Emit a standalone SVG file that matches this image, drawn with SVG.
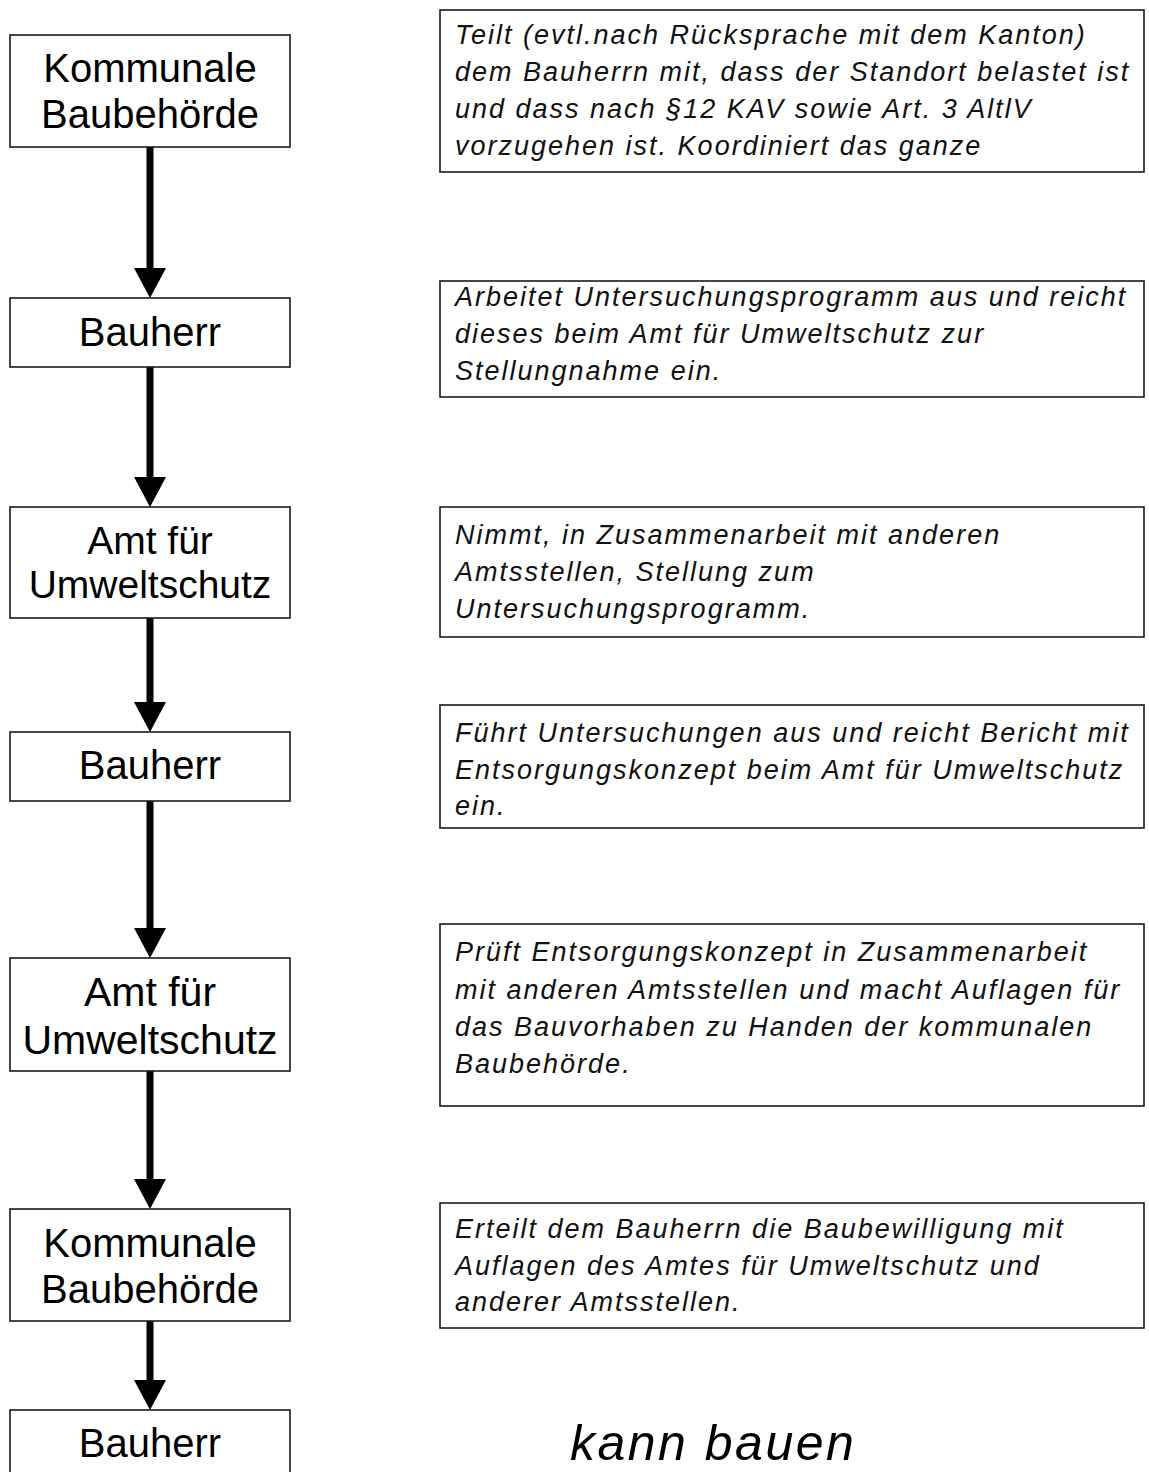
<svg xmlns="http://www.w3.org/2000/svg" width="1149" height="1472" viewBox="0 0 1149 1472">
<style>
.box{fill:#fff;stroke:#1a1a1a;stroke-width:1.6}
.nt{font-family:"Liberation Sans",Arial,sans-serif;font-size:40px;fill:#000;text-anchor:middle}
.dt{font-family:"Liberation Sans",Arial,sans-serif;font-size:27px;font-style:italic;fill:#111;letter-spacing:2px}
.big{font-family:"Liberation Sans",Arial,sans-serif;font-size:50px;font-style:italic;fill:#000;letter-spacing:2.5px}
.arr{stroke:#000;stroke-width:7;fill:none}
</style>
<defs>
<marker id="ah" markerUnits="userSpaceOnUse" markerWidth="32" markerHeight="32" viewBox="0 0 30 32" refX="1" refY="16" orient="auto">
<path d="M0,0 L30,16 L0,32 Z" fill="#000"/>
</marker>
</defs>
<rect width="1149" height="1472" fill="#fff"/>
<g id="connectors">
<line class="arr" x1="150" y1="147" x2="150" y2="269" marker-end="url(#ah)"/>
<line class="arr" x1="150" y1="367" x2="150" y2="478" marker-end="url(#ah)"/>
<line class="arr" x1="150" y1="618" x2="150" y2="703" marker-end="url(#ah)"/>
<line class="arr" x1="150" y1="801" x2="150" y2="929" marker-end="url(#ah)"/>
<line class="arr" x1="150" y1="1071" x2="150" y2="1180" marker-end="url(#ah)"/>
<line class="arr" x1="150" y1="1321" x2="150" y2="1381" marker-end="url(#ah)"/>
</g>
<g id="n1"><rect class="box" x="10" y="35" width="280" height="112"/><text class="nt" x="150" y="82">Kommunale</text><text class="nt" x="150" y="128">Baubehörde</text></g>
<g id="n2"><rect class="box" x="10" y="298" width="280" height="69"/><text class="nt" x="150" y="346">Bauherr</text></g>
<g id="n3"><rect class="box" x="10" y="507" width="280" height="111"/><text class="nt" x="150" y="554" style="font-size:39px">Amt für</text><text class="nt" x="150" y="598" style="font-size:39px">Umweltschutz</text></g>
<g id="n4"><rect class="box" x="10" y="732" width="280" height="69"/><text class="nt" x="150" y="779">Bauherr</text></g>
<g id="n5"><rect class="box" x="10" y="958" width="280" height="113"/><text class="nt" x="150" y="1006" style="font-size:41px">Amt für</text><text class="nt" x="150" y="1054" style="font-size:41px">Umweltschutz</text></g>
<g id="n6"><rect class="box" x="10" y="1209" width="280" height="112"/><text class="nt" x="150" y="1257">Kommunale</text><text class="nt" x="150" y="1303">Baubehörde</text></g>
<g id="n7"><rect class="box" x="10" y="1410" width="280" height="80"/><text class="nt" x="150" y="1457">Bauherr</text></g>
<g id="d1"><rect class="box" x="440" y="10" width="704" height="162"/>
<text class="dt" x="455" y="44">Teilt (evtl.nach Rücksprache mit dem Kanton)</text>
<text class="dt" x="455" y="81">dem Bauherrn mit, dass der Standort belastet ist</text>
<text class="dt" x="455" y="118">und dass nach §12 KAV sowie Art. 3 AltlV</text>
<text class="dt" x="455" y="155">vorzugehen ist. Koordiniert das ganze</text></g>
<g id="d2"><rect class="box" x="440" y="281" width="704" height="116"/>
<text class="dt" x="455" y="306">Arbeitet Untersuchungsprogramm aus und reicht</text>
<text class="dt" x="455" y="343">dieses beim Amt für Umweltschutz zur</text>
<text class="dt" x="455" y="380">Stellungnahme ein.</text></g>
<g id="d3"><rect class="box" x="440" y="507" width="704" height="130"/>
<text class="dt" x="455" y="544">Nimmt, in Zusammenarbeit mit anderen</text>
<text class="dt" x="455" y="581">Amtsstellen, Stellung zum</text>
<text class="dt" x="455" y="618">Untersuchungsprogramm.</text></g>
<g id="d4"><rect class="box" x="440" y="705" width="704" height="123"/>
<text class="dt" x="455" y="742">Führt Untersuchungen aus und reicht Bericht mit</text>
<text class="dt" x="455" y="779">Entsorgungskonzept beim Amt für Umweltschutz</text>
<text class="dt" x="455" y="815">ein.</text></g>
<g id="d5"><rect class="box" x="440" y="924" width="704" height="182"/>
<text class="dt" x="455" y="961">Prüft Entsorgungskonzept in Zusammenarbeit</text>
<text class="dt" x="455" y="999">mit anderen Amtsstellen und macht Auflagen für</text>
<text class="dt" x="455" y="1036">das Bauvorhaben zu Handen der kommunalen</text>
<text class="dt" x="455" y="1073">Baubehörde.</text></g>
<g id="d6"><rect class="box" x="440" y="1203" width="704" height="125"/>
<text class="dt" x="455" y="1238">Erteilt dem Bauherrn die Baubewilligung mit</text>
<text class="dt" x="455" y="1275">Auflagen des Amtes für Umweltschutz und</text>
<text class="dt" x="455" y="1311">anderer Amtsstellen.</text></g>
<g id="end"><text class="big" x="570" y="1460">kann bauen</text></g>
</svg>
